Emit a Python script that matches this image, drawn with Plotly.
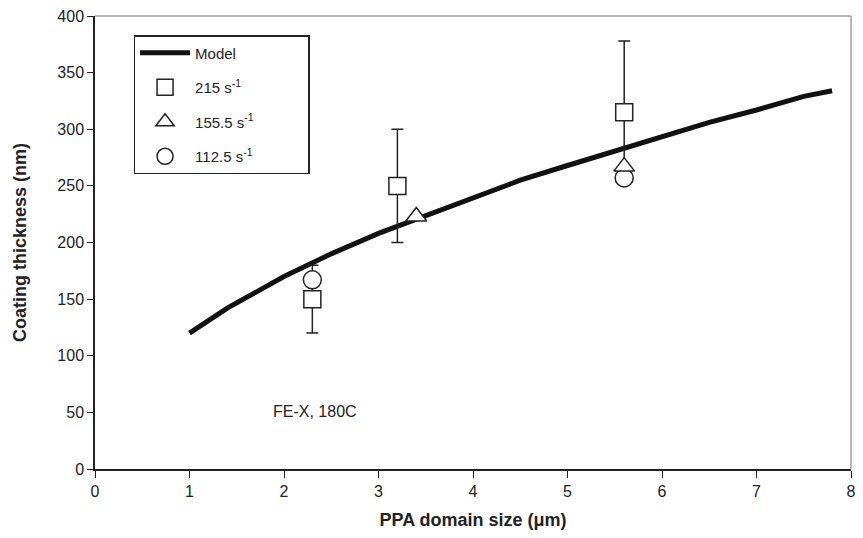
import plotly.graph_objects as go

# Model curve
model_x = [1.0, 1.4, 2.0, 2.5, 3.0, 3.5, 4.0, 4.5, 5.0, 5.5, 6.0, 6.5, 7.0, 7.5, 7.8]
model_y = [120, 142, 170, 190, 208, 224, 240, 255, 268, 281, 294, 306, 317, 329, 334]

# 215 s^-1 (squares) with error bars
sq_x = [2.3, 3.2, 5.6]
sq_y = [150, 250, 315]
sq_err = [30, 50, 63]

# 155.5 s^-1 (triangles)
tri_x = [3.4, 5.6]
tri_y = [223, 267]

# 112.5 s^-1 (circles)
cir_x = [2.3, 5.6]
cir_y = [167, 257]

x_ticks = [0, 1, 2, 3, 4, 5, 6, 7, 8]
y_ticks = [0, 50, 100, 150, 200, 250, 300, 350, 400]

FONT = "Liberation Sans, Arial, sans-serif"
INK = "#222222"
PAD = "&nbsp;" * 16

fig = go.Figure()

fig.add_trace(go.Scatter(
    x=model_x, y=model_y, mode="lines", name="Model" + PAD,
    line=dict(color="#111111", width=5), legendrank=1, legendgroup="m",
))
fig.add_trace(go.Scatter(
    x=sq_x, y=sq_y, mode="markers", name="215 s<sup>-1</sup>",
    marker=dict(symbol="square", size=17, color="white",
                line=dict(color=INK, width=1.5)),
    error_y=dict(type="data", array=sq_err, visible=True,
                 color=INK, thickness=1.5, width=6),
    legendrank=2, legendgroup="a",
))
fig.add_trace(go.Scatter(
    x=cir_x, y=cir_y, mode="markers", name="112.5 s<sup>-1</sup>",
    marker=dict(symbol="circle", size=18, color="white",
                line=dict(color=INK, width=1.5)),
    legendrank=4, legendgroup="c",
))
fig.add_trace(go.Scatter(
    x=tri_x, y=tri_y, mode="markers", name="155.5 s<sup>-1</sup>",
    marker=dict(symbol="triangle-up", size=18, color="white",
                line=dict(color=INK, width=1.5)),
    legendrank=3, legendgroup="b",
))

fig.add_annotation(
    x=2.33, y=51, xref="x", yref="y", text="FE-X, 180C", showarrow=False,
    font=dict(family=FONT, size=16, color=INK),
)

# gray frame on top and right
fig.add_shape(type="line", xref="paper", yref="paper", x0=0, x1=1, y0=1, y1=1,
              line=dict(color="#a0a0a0", width=1.5))
fig.add_shape(type="line", xref="paper", yref="paper", x0=1, x1=1, y0=0, y1=1,
              line=dict(color="#a0a0a0", width=1.5))

fig.update_layout(
    width=863, height=538,
    margin=dict(l=95, r=7, t=16, b=69),
    paper_bgcolor="white", plot_bgcolor="white",
    font=dict(family=FONT, size=16, color=INK),
    showlegend=True,
    legend=dict(
        x=0.051, y=0.958, xanchor="left", yanchor="top",
        bordercolor=INK, borderwidth=1.5, bgcolor="white",
        font=dict(family=FONT, size=15, color=INK),
        itemwidth=50, tracegroupgap=12,
    ),
    xaxis=dict(
        range=[0, 8], tickvals=x_ticks, ticks="outside", ticklen=7,
        tickcolor=INK, showline=True, linecolor=INK, linewidth=1.5,
        showgrid=False, zeroline=False, tickfont=dict(size=16),
        title=dict(text="<b>PPA domain size (μm)</b>", font=dict(size=18), standoff=14),
    ),
    yaxis=dict(
        range=[0, 400], tickvals=y_ticks, ticks="outside", ticklen=6,
        tickcolor=INK, showline=True, linecolor=INK, linewidth=1.5,
        showgrid=False, zeroline=False, tickfont=dict(size=16),
        title=dict(text="<b>Coating thickness (nm)</b>", font=dict(size=18), standoff=26),
    ),
)

fig.write_html("out.html", config={"displayModeBar": False},
               post_script="document.body.style.margin='0';document.body.style.padding='0';")
